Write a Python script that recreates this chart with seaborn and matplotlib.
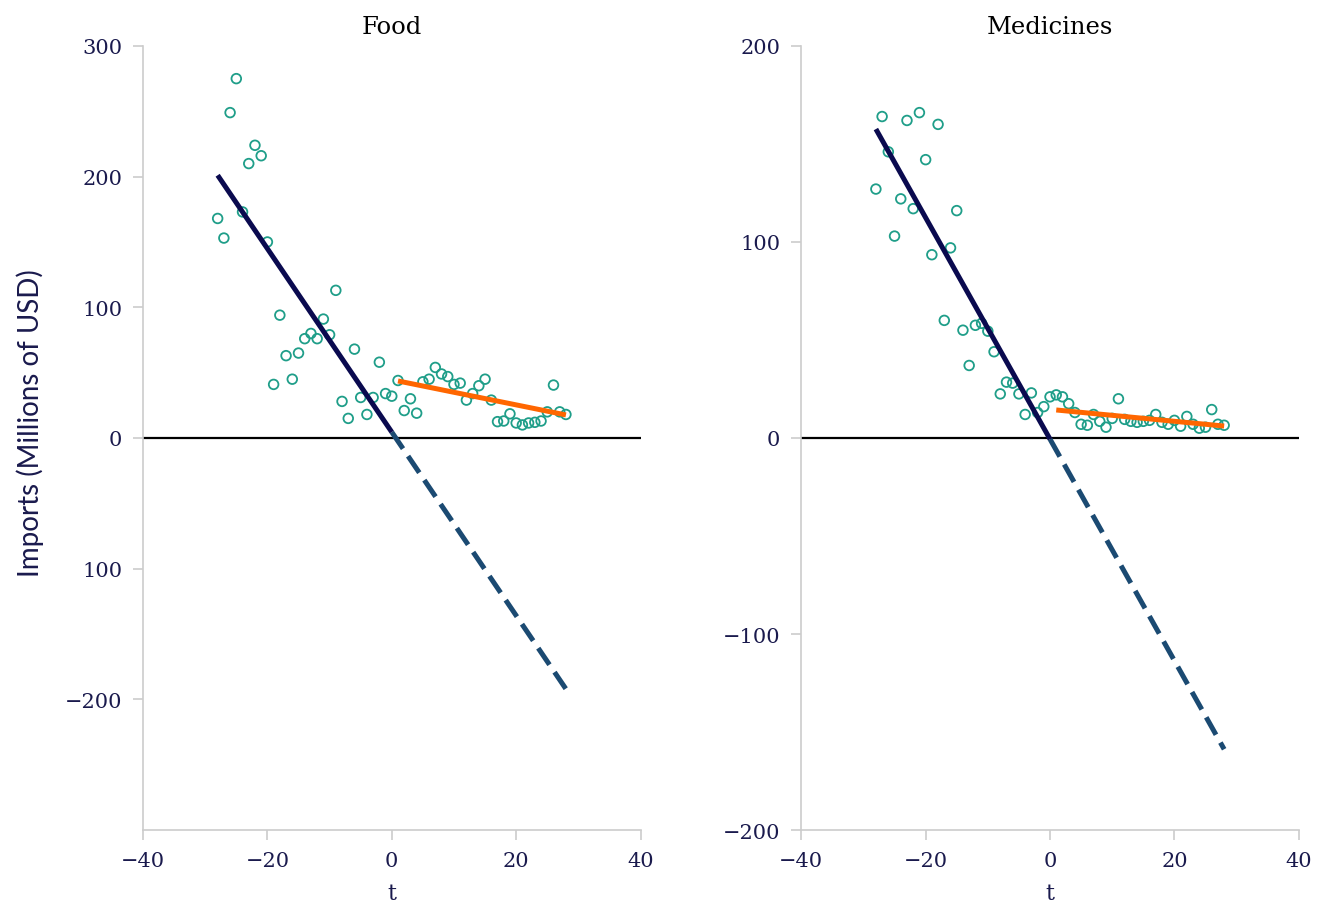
import numpy as np
import pandas as pd
import seaborn as sns
from matplotlib import pyplot as plt

# quarters relative to the break
t = list(range(-28, 29))

food = [168, 153, 249, 275, 173, 210, 224, 216, 150, 41,
        94, 63, 45, 65, 76, 80, 76, 91, 79, 113,
        28, 15, 68, 31, 18, 31, 58, 34, 32, 44,
        21, 30, 19, 43, 45, 54, 49, 47, 41, 42,
        29, 34, 40, 45, 29, 12.5, 13, 18.5, 11.5, 10,
        11.5, 12, 13, 20, 40.5, 20, 18]

medicines = [127, 164, 146, 103, 122, 162, 117, 166, 142, 93.5,
             160, 60, 97, 116, 55, 37, 57.5, 58.5, 54.5, 44,
             22.5, 28.5, 28, 22.5, 12, 23, 13, 16, 21, 22,
             21, 17.5, 13, 7, 6.5, 12, 8.5, 5.5, 10, 20,
             9.5, 8.5, 8, 8.5, 9, 12, 8, 7, 9, 6,
             11, 7, 5, 5.5, 14.5, 7, 6.5]

# fitted trends (intercept, slope)
food_pre_fit = [4.5, -7.02]
food_post_fit = [44.6, -0.963]
med_pre_fit = [-0.6, -5.65]
med_post_fit = [14.6, -0.304]

food_yticks = [300, 200, 100, 0, -100, -200]
food_yticklabels = ['300', '200', '100', '0', '100', '\u2212200']
med_yticks = [200, 100, 0, -100, -200]
med_yticklabels = ['200', '100', '0', '\u2212100', '\u2212200']
xticks = [-40, -20, 0, 20, 40]
xticklabels = ['\u221240', '\u221220', '0', '20', '40']

teal = '#1f9e89'
navy = '#0a0a4f'
steel = '#1b4a72'
orange = '#ff6600'
ink = '#1a1a4d'
grey = '#cccccc'

sns.set_style('white')
plt.rcParams['font.family'] = ['DejaVu Serif']

fig, (ax1, ax2) = plt.subplots(ncols=2, figsize=(13.28, 9.12), dpi=100)
fig.subplots_adjust(left=0.1077, right=0.978, top=0.9485, bottom=0.0888, wspace=0.323)

t_pre = np.array([-28, 0])
t_ext = np.array([0, 28])
t_post = np.array([1, 28])

panels = [
    (ax1, 'Food', food, food_pre_fit, food_post_fit, (-300, 300), food_yticks, food_yticklabels),
    (ax2, 'Medicines', medicines, med_pre_fit, med_post_fit, (-200, 200), med_yticks, med_yticklabels),
]

for ax, title, vals, pre, post, ylim, yt, ytl in panels:
    df = pd.DataFrame({'t': t, 'value': vals})
    ax.axhline(0, color='black', linewidth=1.6, zorder=1)
    sns.scatterplot(data=df, x='t', y='value', ax=ax, marker='o', s=48,
                    facecolor='none', edgecolor=teal, linewidth=1.3, zorder=2)
    sns.lineplot(x=t_ext, y=pre[0] + pre[1] * t_ext, ax=ax, color=steel,
                 linewidth=3.6, linestyle=(0, (4, 1.8)), zorder=3)
    sns.lineplot(x=t_pre, y=pre[0] + pre[1] * t_pre, ax=ax, color=navy,
                 linewidth=3.6, zorder=4, solid_capstyle='butt')
    sns.lineplot(x=t_post, y=post[0] + post[1] * t_post, ax=ax, color=orange,
                 linewidth=3.6, zorder=4, solid_capstyle='butt')

    ax.set_xlim(-40, 40)
    ax.set_ylim(*ylim)
    ax.set_xticks(xticks)
    ax.set_xticklabels(xticklabels)
    ax.set_yticks(yt)
    ax.set_yticklabels(ytl)
    ax.tick_params(axis='both', colors=grey, labelcolor=ink, labelsize=15,
                   length=7, width=1.2, direction='out', pad=8)
    ax.tick_params(axis='both', left=True, bottom=True)
    sns.despine(ax=ax)
    for side in ['left', 'bottom']:
        ax.spines[side].set_color(grey)
        ax.spines[side].set_linewidth(1.2)
    ax.set_title(title, fontsize=17.5, color='black', pad=9)
    ax.set_xlabel('t', fontsize=16, color=ink, labelpad=9)
    ax.set_ylabel('')

ax1.set_ylabel('Imports (Millions of USD)', fontsize=20, color=ink, family='Lato')
ax1.yaxis.set_label_coords(-0.2, 0.52)

plt.savefig('out.png', dpi=100)
